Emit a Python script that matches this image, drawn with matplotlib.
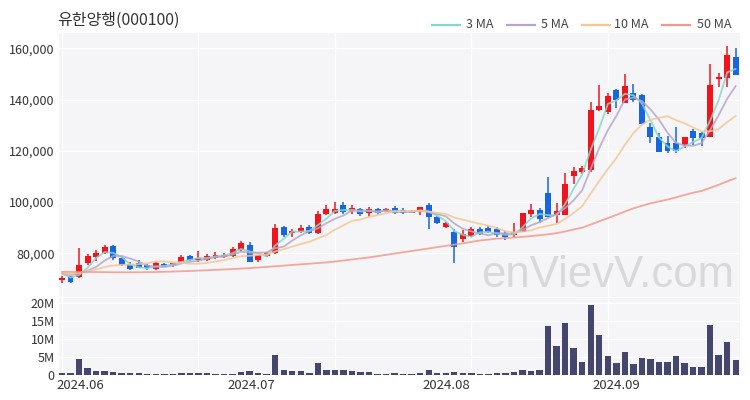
import matplotlib
matplotlib.use('Agg')
import matplotlib.pyplot as plt
import numpy as np
import pandas as pd
from matplotlib.lines import Line2D

plt.rcParams['font.family'] = ['Noto Sans CJK KR', 'DejaVu Sans']

title = '유한양행(000100)'

dates = (['2024-05-30', '2024-05-31'] +
         ['2024-06-%02d' % d for d in [3, 4, 5, 7, 10, 11, 12, 13, 14, 17, 18, 19, 20, 21, 24, 25, 26, 27, 28]] +
         ['2024-07-%02d' % d for d in [1, 2, 3, 4, 5, 8, 9, 10, 11, 12, 15, 16, 17, 18, 19, 22, 23, 24, 25, 26, 29, 30, 31]] +
         ['2024-08-%02d' % d for d in [1, 2, 5, 6, 7, 8, 9, 12, 13, 14, 16, 19, 20, 21, 22, 23, 26, 27, 28, 29, 30]] +
         ['2024-09-%02d' % d for d in [2, 3, 4, 5, 6, 9, 10, 11, 12, 13, 19, 20, 23, 24, 25]])

opens = [69400, 71000, 70600, 76100, 78700, 80000, 82800, 78000, 75800, 76300,
         75400, 73800, 75800, 75300, 76700, 78900, 77400, 77400, 78200, 78400,
         78900, 81300, 83200, 77400, 78900, 80000, 90100, 87800, 88400, 90100,
         87800, 95300, 95800, 98800, 96600, 97100, 95600, 97200, 96400, 97500,
         96900, 95900, 96100, 98800, 94000, 90400, 88300, 85600, 86600, 89400,
         90000, 89400, 88000, 87100, 88400, 95300, 96900, 103400, 95000, 95000,
         110300, 111800, 112500, 135900, 135200, 143700, 138800, 142400, 141800, 129400,
         125300, 123200, 122900, 122300, 127800, 127000, 125500, 147900, 148300, 156700]
highs = [71100, 71200, 82000, 79700, 81300, 83200, 83200, 78700, 76500, 77400,
         75900, 76500, 76200, 76400, 79500, 79200, 81000, 79700, 80500, 80000,
         82300, 84800, 84300, 79500, 80600, 91400, 90600, 89300, 91200, 91200,
         96600, 98900, 100100, 100000, 99000, 97600, 98200, 97800, 97700, 98500,
         97500, 97000, 98000, 99500, 94400, 92300, 89500, 89100, 90400, 90200,
         90500, 90200, 88800, 91700, 95800, 99200, 97600, 109600, 99500, 111200,
         113500, 114200, 139100, 145600, 142500, 144000, 150000, 146000, 142300, 131000,
         127000, 125800, 129400, 125300, 128500, 127500, 153800, 150200, 160900, 160000]
lows = [68600, 68500, 70300, 75400, 77000, 79700, 77400, 75000, 73500, 74100,
        73600, 73300, 74600, 74500, 76300, 77000, 76700, 77000, 77800, 78000,
        78600, 80900, 76500, 76700, 78500, 79700, 86200, 86500, 88000, 87400,
        87600, 95000, 95300, 95300, 95300, 94400, 94100, 95300, 96000, 95200,
        95400, 95600, 94800, 89400, 91500, 90000, 76200, 84500, 86200, 87300,
        87800, 86200, 85200, 86500, 88300, 94300, 91700, 94000, 91700, 94800,
        107000, 110900, 111800, 135700, 134500, 136600, 138700, 139100, 130300, 122900,
        119500, 119200, 119000, 121000, 122200, 121800, 125300, 145000, 145000, 149500]
closes = [70300, 68800, 75400, 78900, 80200, 82300, 78000, 75400, 73900, 74400,
          74100, 76100, 75000, 76100, 78700, 77400, 78300, 78900, 79200, 79500,
          81500, 84100, 76700, 79300, 80200, 89700, 87100, 88600, 89700, 88000,
          95300, 97200, 97200, 96200, 97500, 95300, 97100, 95800, 97300, 95700,
          95800, 96700, 97900, 94300, 91800, 91700, 82500, 87500, 89300, 87700,
          88200, 87100, 86500, 88400, 95600, 96900, 93500, 94300, 96500, 107000,
          112200, 113200, 135900, 137400, 141500, 140000, 145200, 139800, 130500, 125500,
          119600, 120000, 120000, 125300, 124900, 124900, 145600, 148900, 157400, 149600]
volumes_m = [0.5, 0.6, 4.4, 1.9, 1.1, 1.1, 0.75, 0.6, 0.6, 0.5,
             0.3, 0.4, 0.3, 0.3, 0.65, 0.5, 0.5, 0.45, 0.4, 0.4,
             0.4, 0.95, 1.05, 0.5, 0.4, 5.5, 1.3, 1.0, 1.0, 0.65,
             3.4, 1.5, 1.5, 1.4, 1.0, 0.75, 0.7, 0.4, 0.4, 0.55,
             0.4, 0.4, 0.55, 1.5, 0.55, 0.45, 0.85, 0.65, 0.5, 0.4,
             0.2, 0.45, 0.45, 0.85, 1.5, 1.2, 1.3, 13.7, 8.0, 14.5,
             7.4, 3.5, 19.5, 11.2, 5.4, 3.3, 6.3, 3.1, 4.8, 4.5,
             3.5, 3.5, 5.2, 3.3, 2.3, 2.3, 14.0, 5.5, 9.2, 4.2]
# closes before the window (only used to start the short moving averages)
pre_closes = [72800, 72300, 73100, 72600, 72900, 72200, 72700, 73200, 72600]
# 50-day moving average
ma50 = [72800, 72750, 72700, 72700, 72700, 72650, 72600, 72600, 72600, 72600,
        72650, 72700, 72800, 72900, 73000, 73100, 73250, 73400, 73550, 73700,
        73850, 74050, 74250, 74450, 74700, 74950, 75200, 75450, 75700, 75950,
        76200, 76450, 76800, 77200, 77600, 78000, 78400, 78900, 79400, 79900,
        80400, 80900, 81400, 81900, 82400, 82900, 83400, 83900, 84450, 85000,
        85360, 85720, 85950, 86140, 86440, 86740, 87050, 87420, 87880, 88530,
        89290, 90030, 91250, 92480, 93730, 94980, 96320, 97540, 98570, 99490,
        100250, 100970, 101830, 102750, 103650, 104350, 105520, 106730, 108080, 109310]

price_ticks = [80000, 100000, 120000, 140000, 160000]
vol_ticks = [0, 5, 10, 15, 20]
ma_names = ['3 MA', '5 MA', '10 MA', '50 MA']
ma_colors = ['#86d8cd', '#b7a5cb', '#f3c894', '#f4988a']

red = '#f2141c'
blue = '#1766e0'
vol_color = '#45466e'
bg = '#f5f5f7'

o = np.array(opens, float)
h = np.array(highs, float)
l = np.array(lows, float)
c = np.array(closes, float)
v = np.array(volumes_m, float)
n = len(c)
x = np.arange(n)

allc = pd.Series(pre_closes + closes, dtype=float)
mas = [allc.rolling(w).mean().values[len(pre_closes):] for w in (3, 5, 10)]
mas.append(np.array(ma50, float))

fig = plt.figure(figsize=(7.5, 4), dpi=100)
W, H = 750, 400
L, R = 59, 740
ax = fig.add_axes([L / W, 1 - 296.5 / H, (R - L) / W, (296.5 - 33) / H])
axv = fig.add_axes([L / W, 1 - 376 / H, (R - L) / W, (376 - 298) / H], sharex=ax)

for a in (ax, axv):
    a.set_facecolor(bg)
    for s in a.spines.values():
        s.set_visible(False)
    a.tick_params(length=0, colors='#333333', labelsize=9)
    for gx in [0, 16, 32, 48, 64]:
        a.axvline(gx, color='white', lw=1, zorder=0.5)

# watermark
ax.text(0.62, 0.035, 'enVievV.com', transform=ax.transAxes, fontsize=31.5,
        family=['Liberation Sans', 'DejaVu Sans'], color='#d9d9db', ha='left',
        va='baseline', zorder=1)

up = c >= o
cols = np.where(up, red, blue)
ax.vlines(x, l, h, colors=cols, lw=1.1, zorder=3)
body_b = np.minimum(o, c)
body_h = np.maximum(np.abs(c - o), 350)
ax.bar(x, body_h, bottom=body_b, width=0.7, color=cols, zorder=3, linewidth=0)

for m, col in zip(mas, ma_colors):
    ax.plot(x, m, color=col, lw=1.3, alpha=0.85, zorder=4, solid_capstyle='round')

ax.set_yticks(price_ticks)
ax.set_yticklabels(['{:,}'.format(t) for t in price_ticks])
ax.yaxis.grid(True, color='white', lw=1)
ax.set_axisbelow(True)
ax.set_ylim(63150, 165970)
ax.set_xlim(-0.35, n - 0.5)
ax.tick_params(axis='x', labelbottom=False)
ax.tick_params(axis='y', pad=3)

axv.bar(x, v, width=0.75, color=vol_color, zorder=3, linewidth=0)
axv.set_yticks(vol_ticks)
axv.set_yticklabels(['0' if t == 0 else '%dM' % t for t in vol_ticks])
axv.yaxis.grid(True, color='white', lw=1)
axv.set_axisbelow(True)
axv.set_ylim(-0.28, 21.48)
axv.tick_params(axis='y', pad=3)

# month labels
month_labels = []
month_pos = [2.2, 22.2, 45.1, 65.0]
seen = set()
for d in dates:
    key = d[:7]
    if key not in seen and d >= '2024-06-01':
        seen.add(key)
        month_labels.append(key.replace('-', '.'))
axv.set_xticks(month_pos)
axv.set_xticklabels(month_labels, fontsize=9.5)
axv.tick_params(axis='x', pad=2)
axv.set_xlim(-0.35, n - 0.5)

fig.text(57 / W, 1 - 20 / H, title, fontsize=11.5, color='#333333', va='center', ha='left')

leg_line_x = [(432, 460), (507, 535), (582, 610), (662, 690)]
leg_text_x = [466, 541, 614, 697]
ly = 1 - 25 / H
for (x0, x1), tx, name, col in zip(leg_line_x, leg_text_x, ma_names, ma_colors):
    fig.add_artist(Line2D([x0 / W, x1 / W], [ly, ly], color=col, lw=1.6))
    fig.text(tx / W, ly, name, fontsize=9, color='#444444', va='center', ha='left')

fig.savefig('out.png', dpi=100, facecolor='white')
